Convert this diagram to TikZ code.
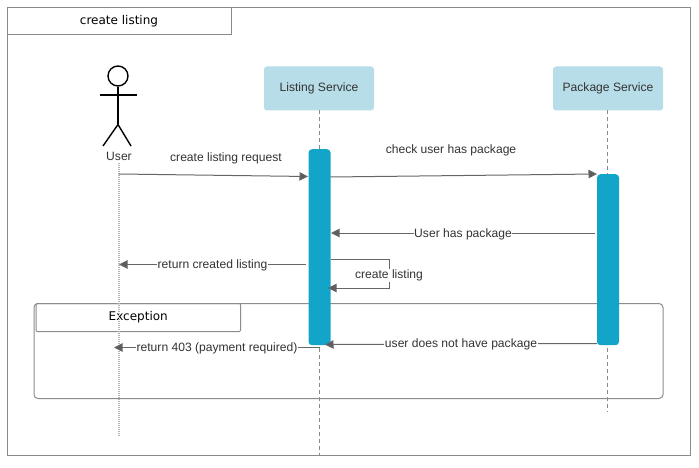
\documentclass[tikz,border=0pt]{standalone}
\usepackage{fontspec}
\setmainfont{Liberation Sans}
\newfontfamily\titlefont{DejaVu Sans}
\usetikzlibrary{arrows.meta}
\definecolor{svcfill}{HTML}{B7DDE8}
\definecolor{barfill}{HTML}{12A5C9}
\definecolor{inkgray}{HTML}{333333}
\definecolor{linegray}{HTML}{666666}
\definecolor{framegray}{HTML}{8A8A8A}
\tikzset{
  x=1pt,y=-1pt,
  framebox/.style={draw=framegray,line width=1pt,fill=none,inner sep=0pt,anchor=north west},
  service/.style={fill=svcfill,draw=none,rounded corners=3pt,minimum width=110pt,minimum height=44pt,inner sep=0pt,text=inkgray,font=\fontsize{12.1}{14}\selectfont},
  activation/.style={fill=barfill,draw=none,rounded corners=3.5pt,minimum width=22pt,inner sep=0pt,anchor=north},
  lifedash/.style={draw=framegray,line width=1.6pt,dash pattern=on 4pt off 3pt},
  lifedot/.style={draw=black!30,line width=1.2pt,dash pattern=on 1pt off 1pt},
  msg/.style={draw=linegray,line width=1pt,-{Triangle[length=8.5pt,width=8.5pt,fill=linegray!90!black]}},
  lbl/.style={font=\fontsize{12.1}{14}\selectfont,text=inkgray,inner sep=0.5pt},
  lblw/.style={lbl,fill=white},
  actor/.style={draw=black,line width=1.4pt},
}
\begin{document}
\begin{tikzpicture}
\useasboundingbox (0,0) rectangle (699,468);
\fill[white] (0,0) rectangle (699,468);
% frame
\node[framebox,minimum width=683pt,minimum height=447pt] (frame) at (6.5,7.5) {};
\node[framebox,minimum width=224pt,minimum height=27pt,font=\titlefont\fontsize{12}{14}\selectfont] (title) at (6.5,7.5) {\raisebox{-1pt}{create listing}};
% exception fragment
\node[framebox,draw=black!45,rounded corners=4pt,minimum width=629pt,minimum height=95pt] (exc) at (33.5,303) {};
\node[framebox,draw=black!45,rounded corners=1pt,minimum width=204.5pt,minimum height=28pt,font=\titlefont\fontsize{12}{14}\selectfont] (exctab) at (35.5,303) {\raisebox{-2pt}{Exception}};
% actor
\node[draw=black,line width=1.4pt,circle,minimum size=20pt,inner sep=0pt] (head) at (118,76) {};
\coordinate (hip) at (118,124.5);
\coordinate (armL) at (99.5,95);
\coordinate (armR) at (137,95);
\coordinate (legL) at (103,146);
\coordinate (legR) at (131,146);
\draw[actor] (head.south) -- (hip);
\draw[actor] (armL) -- (armR);
\draw[actor] (legL) -- (hip) -- (legR);
\node[lbl] (user) at (119,156.5) {User};
% services
\node[service] (listing) at (319,88.5) {Listing Service};
\node[service] (package) at (608,88.5) {Package Service};
% lifelines
\coordinate (userTop) at (119,163);
\coordinate (userEnd) at (119,437);
\coordinate (listingTop) at (319.5,110);
\coordinate (packageTop) at (607.5,110);
\coordinate (listingEnd) at (319.5,455);
\coordinate (packageEnd) at (607.5,412);
\draw[lifedot] (userTop) -- (userEnd);
\draw[lifedash] (listingTop) -- (listingEnd);
\draw[lifedash] (packageTop) -- (packageEnd);
% activations
\node[activation,minimum height=196pt] (barL) at (319.5,149) {};
\node[activation,minimum height=171pt] (barP) at (608,174) {};
% coordinates for message ends
\coordinate (m1a) at (119,174);
\coordinate (m1b) at (308,176.5);
\coordinate (m2a) at (330.5,177);
\coordinate (m2b) at (597,174);
\coordinate (m3a) at (595,233);
\coordinate (m3b) at (331,233);
\coordinate (m4a) at (306,264.5);
\coordinate (m4b) at (119,264.5);
\coordinate (m5a) at (330.5,259);
\coordinate (m5c1) at (389,259);
\coordinate (m5c2) at (389,288);
\coordinate (m5b) at (328,288);
\coordinate (m6a) at (319.5,347.5);
\coordinate (m6b) at (114,347.5);
\coordinate (m7a) at (597,343.5);
\coordinate (m7b) at (325,344.5);
% messages
\draw[msg] (m1a) -- (m1b);
\draw[msg] (m2a) -- (m2b);
\draw[msg] (m3a) -- (m3b);
\draw[msg] (m4a) -- (m4b);
\draw[msg] (m5a) -- (m5c1) -- (m5c2) -- (m5b);
\draw[msg] (m6a) -- (m6b);
\draw[msg] (m7a) -- (m7b);
% labels
\node[lbl] (l1) at (226,158) {create listing request};
\node[lbl] (l2) at (451,150.5) {check user has package};
\node[lblw] (l3) at (463,234) {User has package};
\node[lblw] (l4) at (212.5,265.5) {return created listing};
\node[lblw] (l5) at (389,275.5) {create listing};
\node[lblw] (l6) at (217,348.5) {return 403 (payment required)};
\node[lblw] (l7) at (461,344.5) {user does not have package};
\end{tikzpicture}
\end{document}
